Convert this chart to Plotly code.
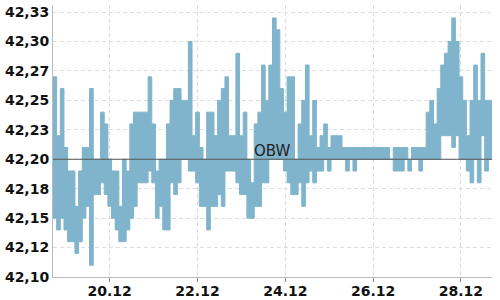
import pandas as pd
import plotly.graph_objects as go

# --- data (2-hour price ranges) ---
start = "2023-12-18 17:00"
bin_hours = 2

highs = [
    42.27, 42.22, 42.26, 42.21, 42.19, 42.19, 42.16, 42.19, 42.21, 42.21,
    42.26, 42.20, 42.20, 42.24, 42.23, 42.20, 42.19, 42.19, 42.16, 42.20,
    42.19, 42.23, 42.24, 42.24, 42.24, 42.24, 42.27, 42.23, 42.19, 42.20,
    42.20, 42.23, 42.25, 42.26, 42.26, 42.25, 42.25, 42.30, 42.22, 42.24,
    42.21, 42.20, 42.24, 42.24, 42.22, 42.25, 42.26, 42.27, 42.22, 42.22,
    42.29, 42.22, 42.24, 42.20, 42.18, 42.23, 42.24, 42.28, 42.25, 42.28,
    42.32, 42.31, 42.26, 42.24, 42.27, 42.27, 42.20, 42.23, 42.25, 42.28,
    42.22, 42.25, 42.21, 42.22, 42.23, 42.21, 42.22, 42.22, 42.22, 42.21,
    42.21, 42.21, 42.21, 42.21, 42.21, 42.21, 42.21, 42.21, 42.21, 42.21,
    42.21, 42.21, 42.20, 42.21, 42.21, 42.21, 42.21, 42.20, 42.21, 42.21,
    42.21, 42.21, 42.24, 42.25, 42.23, 42.26, 42.28, 42.29, 42.30, 42.32,
    42.30, 42.27, 42.25, 42.22, 42.25, 42.28, 42.25, 42.29, 42.25, 42.25,
]
lows = [
    42.15, 42.14, 42.15, 42.14, 42.13, 42.13, 42.12, 42.13, 42.15, 42.16,
    42.11, 42.17, 42.17, 42.18, 42.17, 42.16, 42.15, 42.14, 42.13, 42.13,
    42.14, 42.15, 42.16, 42.18, 42.18, 42.18, 42.19, 42.18, 42.15, 42.16,
    42.14, 42.14, 42.18, 42.17, 42.18, 42.20, 42.20, 42.19, 42.19, 42.18,
    42.16, 42.16, 42.14, 42.16, 42.16, 42.17, 42.16, 42.19, 42.19, 42.19,
    42.18, 42.17, 42.17, 42.15, 42.15, 42.16, 42.16, 42.18, 42.18, 42.20,
    42.20, 42.20, 42.20, 42.19, 42.18, 42.17, 42.17, 42.18, 42.16, 42.18,
    42.19, 42.18, 42.19, 42.19, 42.20, 42.19, 42.20, 42.20, 42.20, 42.20,
    42.19, 42.20, 42.19, 42.20, 42.20, 42.20, 42.20, 42.20, 42.20, 42.20,
    42.20, 42.20, 42.20, 42.19, 42.19, 42.19, 42.20, 42.19, 42.20, 42.20,
    42.19, 42.20, 42.20, 42.20, 42.20, 42.20, 42.22, 42.22, 42.22, 42.21,
    42.22, 42.20, 42.20, 42.19, 42.18, 42.20, 42.18, 42.22, 42.19, 42.20,
]
obw_value = 42.20
obw_label = "OBW"

y_tickvals = [42.100, 42.125, 42.150, 42.175, 42.200, 42.225, 42.250, 42.275, 42.300, 42.325]
y_ticktext = ["42,10", "42,12", "42,15", "42,18", "42,20", "42,23", "42,25", "42,27", "42,30", "42,33"]
x_tickvals = ["2023-12-20", "2023-12-22", "2023-12-24", "2023-12-26", "2023-12-28"]
x_ticktext = ["20.12", "22.12", "24.12", "26.12", "28.12"]

# --- build ---
times = pd.date_range(start, periods=len(highs) + 1, freq=f"{bin_hours}h")
hi = highs + [highs[-1]]
lo = lows + [lows[-1]]

blue = "#7fb4cc"
fig = go.Figure()
fig.add_trace(go.Scatter(x=times, y=lo, mode="lines", line=dict(color=blue, width=1, shape="hv"),
                         hoverinfo="skip", showlegend=False))
fig.add_trace(go.Scatter(x=times, y=hi, mode="lines", line=dict(color=blue, width=1, shape="hv"),
                         fill="tonexty", fillcolor=blue, hoverinfo="skip", showlegend=False))

fig.add_shape(type="line", xref="paper", x0=0, x1=1, yref="y", y0=obw_value, y1=obw_value,
              line=dict(color="#555555", width=1), layer="above")
fig.add_annotation(x=0.5, xref="paper", y=obw_value, yref="y", text=obw_label, showarrow=False,
                   yanchor="bottom", yshift=-3, font=dict(family="DejaVu Sans", size=15, color="#222222"))

tickfont = dict(family="DejaVu Sans", size=14, color="#111111", weight="bold")
fig.update_layout(
    width=500, height=300,
    margin=dict(l=53, r=8, t=5, b=23),
    paper_bgcolor="white", plot_bgcolor="white",
    showlegend=False,
    xaxis=dict(
        range=[times[0], times[-1]],
        tickvals=x_tickvals, ticktext=x_ticktext,
        showgrid=True, gridcolor="#dddddd", griddash="4px,3px", gridwidth=1,
        showline=True, linecolor="#bbbbbb", linewidth=1,
        ticks="outside", ticklen=4, tickcolor="#888888", ticklabelstandoff=-3,
        tickfont=tickfont, zeroline=False, automargin=False,
    ),
    yaxis=dict(
        range=[42.10, 42.331],
        tickvals=y_tickvals, ticktext=y_ticktext,
        showgrid=True, gridcolor="#dddddd", griddash="4px,3px", gridwidth=1,
        showline=True, linecolor="#bbbbbb", linewidth=1,
        ticks="", tickfont=tickfont, zeroline=False, automargin=False,
    ),
)

fig.write_html("out.html")
